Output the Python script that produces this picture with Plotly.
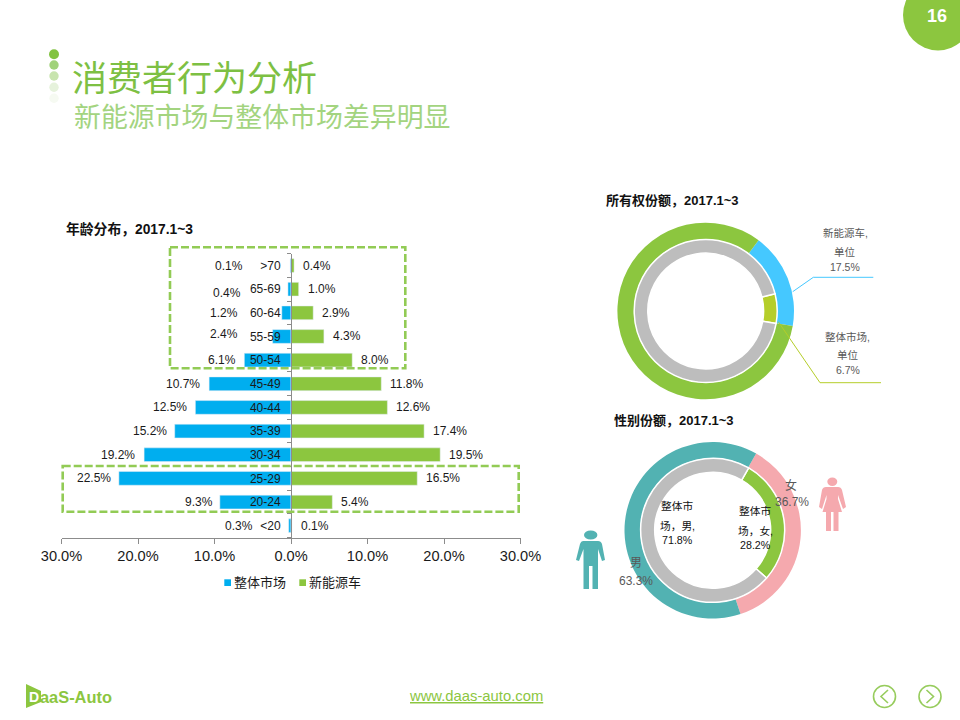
import plotly.graph_objects as go

W, H = 960, 720
FONT = "Liberation Sans, Noto Sans CJK SC, sans-serif"
CJK = "Noto Sans CJK SC, sans-serif"

# ---- data ----
age_groups = ["<20", "20-24", "25-29", "30-34", "35-39", "40-44", "45-49", "50-54", "55-59", "60-64", "65-69", ">70"]
whole_market = [0.3, 9.3, 22.5, 19.2, 15.2, 12.5, 10.7, 6.1, 2.4, 1.2, 0.4, 0.1]
new_energy = [0.1, 5.4, 16.5, 19.5, 17.4, 12.6, 11.8, 8.0, 4.3, 2.9, 1.0, 0.4]
x_tick_vals = [-30, -20, -10, 0, 10, 20, 30]
x_tick_text = ["30.0%", "20.0%", "10.0%", "0.0%", "10.0%", "20.0%", "30.0%"]
series_names = ["整体市场", "新能源车"]

own_outer_labels = ["新能源车,单位", "新能源车,其他"]
own_outer_values = [17.5, 82.5]
own_inner_labels = ["整体市场,单位", "整体市场,其他"]
own_inner_values = [6.7, 93.3]

gender_outer_labels = ["女", "男"]
gender_outer_values = [36.7, 63.3]
gender_inner_labels = ["整体市场,女", "整体市场,男"]
gender_inner_values = [28.2, 71.8]

# ---- label placement (pixel nudges, kept apart from the data) ----
left_xshift = [-35, -6, -7, -8, -7, -7, -8, -7, -34, -43, -45.5, -46]
left_yshift = [0, 0, 0, 0, 0, 0, 0, 0, 2, 0, -4, 0]

BLUE = "#00AEEF"
GREEN = "#8CC63F"
GRAY = "#BDBDBD"
AXIS = "#8C8C8C"
DASH = "#92CB55"


def px(x):
    return x / W


def py(y):
    return 1 - y / H


def path(s):
    """Turn 'M x,y L x,y ...' in screen pixels into paper coordinates."""
    out = []
    for tok in s.split():
        if "," in tok:
            a, b = tok.split(",")
            out.append(f"{px(float(a)):.5f},{py(float(b)):.5f}")
        else:
            out.append(tok)
    return " ".join(out)


anns, shapes = [], []


def text(x, y, s, size=12, color="#000000", anchor="center", family=FONT):
    anns.append(dict(xref="paper", yref="paper", x=px(x), y=py(y), text=s, showarrow=False,
                     xanchor=anchor, yanchor="middle", borderpad=0, borderwidth=0,
                     font=dict(size=size, color=color, family=family)))


def circle(cx, cy, rx, ry, fill, line=None, lw=0):
    shapes.append(dict(type="circle", xref="paper", yref="paper",
                       x0=px(cx - rx), x1=px(cx + rx), y0=py(cy + ry), y1=py(cy - ry),
                       fillcolor=fill, line=dict(color=line or fill, width=lw)))


def poly(s, fill=None, line=None, lw=0, dash=None):
    shapes.append(dict(type="path", xref="paper", yref="paper", path=path(s),
                       fillcolor=fill or "rgba(0,0,0,0)",
                       line=dict(color=line or "rgba(0,0,0,0)", width=lw, dash=dash or "solid")))


fig = go.Figure()

# ---- butterfly bars ----
fig.add_trace(go.Bar(y=age_groups, x=[-v for v in whole_market], orientation="h", name=series_names[0],
                     marker_color=BLUE, showlegend=False, customdata=whole_market,
                     hovertemplate="%{y}: %{customdata}%<extra>整体市场</extra>"))
fig.add_trace(go.Bar(y=age_groups, x=new_energy, orientation="h", name=series_names[1],
                     marker_color=GREEN, showlegend=False,
                     hovertemplate="%{y}: %{x}%<extra>新能源车</extra>"))

for i, g in enumerate(age_groups):
    anns.append(dict(xref="x", yref="y", x=-whole_market[i], y=g, text=f"{whole_market[i]:.1f}%", showarrow=False,
                     xanchor="right", yanchor="middle", xshift=left_xshift[i], yshift=left_yshift[i], borderpad=0,
                     font=dict(size=12, color="#1A1A1A", family=FONT)))
    anns.append(dict(xref="x", yref="y", x=new_energy[i], y=g, text=f"{new_energy[i]:.1f}%", showarrow=False,
                     xanchor="left", yanchor="middle", xshift=8, borderpad=0,
                     font=dict(size=12, color="#1A1A1A", family=FONT)))

# ---- donuts ----
def donut(cx, cy, r, hole, labels, values, colors, rot, sep=False):
    fig.add_trace(go.Pie(labels=labels, values=values, hole=hole, sort=False, direction="clockwise",
                         rotation=rot, textinfo="none", showlegend=False,
                         domain=dict(x=[px(cx - r), px(cx + r)], y=[py(cy + r), py(cy - r)]),
                         marker=dict(colors=colors, line=dict(color="#FFFFFF", width=1.5 if sep else 0))))


donut(705.7, 311, 88.3, 0.812, own_outer_labels, own_outer_values, ["#45C8FF", GREEN], 36.8)
donut(705.7, 311, 71.5, 0.81, own_inner_labels, own_inner_values, ["#B5CE2A", GRAY], 76, sep=True)
donut(712.7, 530.3, 88.2, 0.82, gender_outer_labels, gender_outer_values, ["#F5A9AE", "#52B2B2"], 29.5)
donut(712.7, 530.3, 72, 0.805, gender_inner_labels, gender_inner_values, [GREEN, GRAY], 30, sep=True)

# ---- leader lines ----
poly("M 792.7,291.7 L 813.3,277.3 L 873.3,277.3", line="#45C8FF", lw=1)
poly("M 778.3,321.7 L 820,382.7 L 881,382.7", line="#B5CE2A", lw=1)

# ---- dashed highlight boxes ----
poly("M 170,247.3 L 405.3,247.3 L 405.3,368.3 L 170,368.3 Z", line=DASH, lw=2.6, dash="8px,3px")
poly("M 62.7,466 L 518.7,466 L 518.7,511.7 L 62.7,511.7 Z", line=DASH, lw=2.6, dash="8px,3px")

# ---- hand-drawn legend (small swatches sit close to their text) ----
shapes.append(dict(type="rect", xref="paper", yref="paper", x0=px(224.3), x1=px(231), y0=py(586), y1=py(579.3),
                   fillcolor=BLUE, line=dict(width=0)))
shapes.append(dict(type="rect", xref="paper", yref="paper", x0=px(299.3), x1=px(306), y0=py(586), y1=py(579.3),
                   fillcolor=GREEN, line=dict(width=0)))
text(234, 582.7, series_names[0], 13, "#1A1A1A", "left")
text(309, 582.7, series_names[1], 13, "#1A1A1A", "left")

# ---- chart titles ----
text(66, 229, "<b>年龄分布，2017.1~3</b>", 13.8, "#111111", "left")
text(606, 200, "<b>所有权份额，2017.1~3</b>", 13, "#111111", "left")
text(614, 420, "<b>性别份额，2017.1~3</b>", 13, "#111111", "left")

# ---- donut labels ----
GL = "#595959"
for y, s in [(233.3, "新能源车,"), (252, "单位"), (267, "17.5%")]:
    text(845, y, s, 10.5, GL)
for y, s in [(336.7, "整体市场,"), (355, "单位"), (370, "6.7%")]:
    text(847.5, y, s, 10.5, GL)
text(790.7, 485, "女", 12, GL)
text(791.7, 501.7, "36.7%", 12, GL)
text(635.7, 563.3, "男", 12, GL)
text(636, 580.7, "63.3%", 12, GL)
for y, s in [(506, "整体市"), (525.7, "场，男,"), (540.3, "71.8%")]:
    text(677.3, y, s, 10.7, "#111111")
for y, s in [(511.3, "整体市"), (531, "场，女,"), (545.3, "28.2%")]:
    text(755.3, y, s, 10.7, "#111111")

# ---- person icons ----
circle(590.7, 535, 6.7, 4.5, "#52B2B2")
poly("M 583,541 L 598,541 Q 601,541 602,544 L 605,560 L 602,561 L 598,549 L 598,589 L 592.5,589 L 592.5,566 "
     "L 589,566 L 589,589 L 583.5,589 L 583.5,549 L 579,561 L 576,560 L 580,544 Q 581,541 583,541 Z", fill="#52B2B2")
circle(832.3, 481.7, 5, 4.2, "#F5A9AE")
poly("M 826,487 L 838,487 Q 841,487 842,490 L 846,507 L 843,509 L 838,495 L 838,499 L 842,512 L 838.5,512 "
     "L 838.5,531 L 833.5,531 L 833.5,512 L 831,512 L 831,531 L 826,531 L 826,512 L 822.5,512 L 826.5,499 "
     "L 826.5,495 L 822,509 L 819,507 L 822,490 Q 823,487 826,487 Z", fill="#F5A9AE")

# ---- slide furniture ----
circle(938, 15, 35, 35.5, GREEN)
text(937, 16, "<b>16</b>", 18, "#FFFFFF")
for y, rx, col in [(54.3, 5, "#82C341"), (65, 4.7, "#A1D27A"), (76, 4.7, "#C8E4AE"), (87.3, 4.7, "#E6F2DC"), (98.3, 4.7, "#F6FAF2")]:
    circle(54, y, rx, rx, col)
text(72, 75.7, "消费者行为分析", 35, "#7DC043", "left", CJK)
text(74, 116, "新能源市场与整体市场差异明显", 26.9, "#A3D47F", "left", CJK)

poly("M 26,684 L 41,691 L 41,702 L 26,708 Z", fill="#8CC63F")
text(29, 697, "<b>D</b>", 14, "#FFFFFF", "left")
text(40, 697, "<b>aaS-Auto</b>", 16.4, "#8CC63F", "left")
text(475.5, 696, "<u>www.daas-auto.com</u>", 14.8, "#8CC63F")

circle(884.5, 696.5, 11, 11, "rgba(0,0,0,0)", "#97CC5D", 1.6)
circle(930, 696.5, 11, 11, "rgba(0,0,0,0)", "#97CC5D", 1.6)
poly("M 888,690 L 881,696.5 L 888,703", line="#97CC5D", lw=1.6)
poly("M 926.5,690 L 933.5,696.5 L 926.5,703", line="#97CC5D", lw=1.6)

# ---- layout ----
fig.update_layout(
    width=W, height=H, margin=dict(l=0, r=0, t=0, b=0, autoexpand=False),
    paper_bgcolor="#FFFFFF", plot_bgcolor="rgba(0,0,0,0)",
    barmode="overlay", bargap=0.42, showlegend=False,
    font=dict(family=FONT, color="#1A1A1A"),
    annotations=anns, shapes=shapes,
    xaxis=dict(domain=[px(61.5), px(520.5)], range=[-30, 30], tickmode="array", automargin=False,
               tickvals=x_tick_vals, ticktext=x_tick_text, showgrid=False, zeroline=False,
               showline=True, linecolor=AXIS, linewidth=1, ticks="outside", ticklen=5, tickcolor=AXIS,
               tickfont=dict(size=14.6, color="#1A1A1A", family=FONT)),
    yaxis=dict(domain=[py(537.5), py(253.7)], anchor="free", position=px(291), type="category", automargin=False,
               categoryorder="array", categoryarray=age_groups, showgrid=False, zeroline=False,
               showline=True, linecolor=AXIS, linewidth=1, ticks="outside", ticklen=4, tickcolor=AXIS,
               tickson="boundaries", ticklabelstandoff=8,
               tickfont=dict(size=12, color="#1A1A1A", family=FONT)),
)

fig.write_html("out.html", config=dict(displayModeBar=False), post_script="document.body.style.margin='0';")
